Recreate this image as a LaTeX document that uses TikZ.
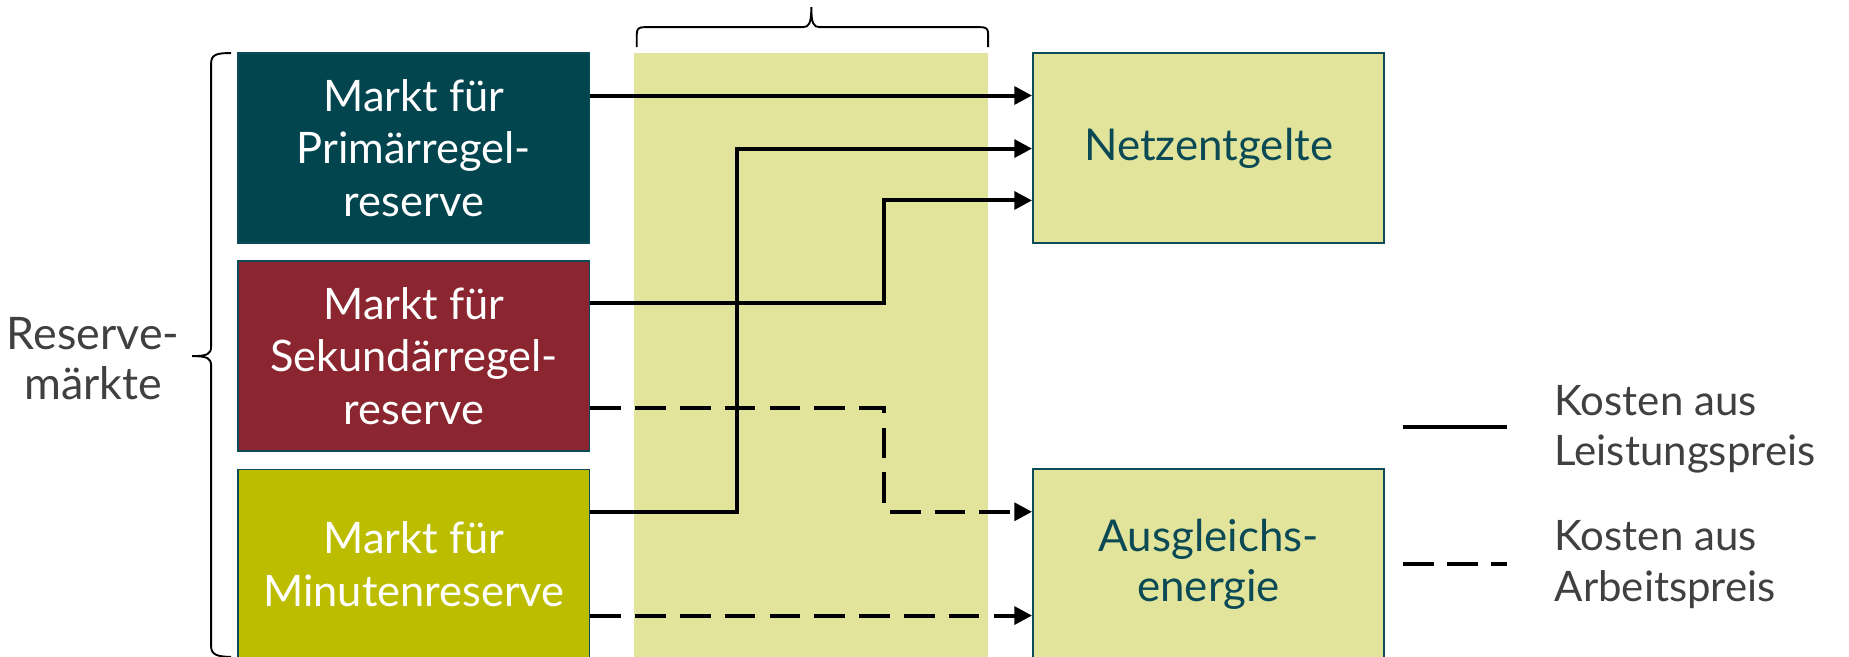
\documentclass[tikz,border=0pt]{standalone}
\usepackage{fontspec}
\setmainfont{Lato}
\usetikzlibrary{arrows.meta}
\definecolor{tealbox}{HTML}{02454F}
\definecolor{redbox}{HTML}{8B2630}
\definecolor{olivebox}{HTML}{BDBD00}
\definecolor{lightyel}{HTML}{E3E49B}
\definecolor{tealborder}{HTML}{0B4C57}
\definecolor{tealtext}{HTML}{0B4A55}
\definecolor{graytext}{HTML}{404040}
\tikzset{
  mkt/.style={draw=tealborder, line width=0.6pt, minimum width=149pt, minimum height=80.5pt,
    align=center, text=white, inner sep=0pt, font=\fontsize{18.4pt}{22.3pt}\selectfont},
  target/.style={draw=tealborder, line width=0.8pt, fill=lightyel, minimum width=149pt, minimum height=80.5pt,
    align=center, text=tealtext, inner sep=0pt, font=\fontsize{18.6pt}{21.5pt}\selectfont},
  lbl/.style={text=graytext, inner sep=0pt, font=\fontsize{17.8pt}{21.5pt}\selectfont},
  conn/.style={line width=1.7pt, black},
  connarr/.style={conn, -{Triangle[length=7.5pt,width=7.5pt]}},
  dashconn/.style={connarr, dash pattern=on 13pt off 6pt},
  bracel/.style={line width=0.8pt, black}
}
\begin{document}
\begin{tikzpicture}[x=0.5pt, y=-0.5pt]
\useasboundingbox (0,0) rectangle (1568,557);
% shaded column
\fill[lightyel] (538,45) rectangle (838,565);
% boxes
\node[mkt, fill=tealbox] (prim) at (351,125.5) {Markt für\\Primärregel-\\reserve};
\node[mkt, fill=redbox] (sek) at (351,302) {Markt für\\Sekundärregel-\\reserve};
\node[mkt, fill=olivebox] (min) at (351,478.5) {Markt für\\Minutenreserve};
\node[target] (netz) at (1025,125.5) {Netzentgelte};
\node[target] (ausg) at (1025,478.5) {Ausgleichs-\\energie};
% label of the left brace
\node[lbl, align=center, font=\fontsize{19pt}{21.5pt}\selectfont] (res) at (79,304) {Reserve-\\märkte};
% junction points
\coordinate (y1) at (0,81);
\coordinate (j1) at (625,126);
\coordinate (j2) at (750,170);
\coordinate (j3) at (750,434);
\coordinate (y2) at (0,434);
\coordinate (y3) at (0,257);
\coordinate (y4) at (0,346);
\coordinate (y5) at (0,522);
% connectors
\draw[connarr] (prim.east |- y1) -- (netz.west |- y1);
\draw[connarr] (min.east |- y2) -| (j1) -- (netz.west |- j1);
\draw[connarr] (sek.east |- y3) -| (j2) -- (netz.west |- j2);
\draw[dashconn] (sek.east |- y4) -| (j3) -- (ausg.west |- j3);
\draw[dashconn] (min.east |- y5) -- (ausg.west |- y5);
% left brace
\draw[bracel] (196,45) .. controls (184,45) and (179,46) .. (179,54) -- (179,294)
  .. controls (179,300) and (176,302) .. (163,302)
  .. controls (176,302) and (179,304) .. (179,310) -- (179,548)
  .. controls (179,555) and (184,557) .. (196,557);
% top brace
\draw[bracel] (540,40) -- (540,29) .. controls (540,24) and (542,23) .. (547,23) -- (681,23)
  .. controls (686,23) and (688,20) .. (688,6)
  .. controls (688,20) and (690,23) .. (695,23) -- (831,23)
  .. controls (836,23) and (838,24) .. (838,29) -- (838,40);
% legend
\coordinate (l1a) at (1190,362);
\coordinate (l1b) at (1278,362);
\coordinate (l2a) at (1190,478);
\coordinate (l2b) at (1278,478);
\draw[conn] (l1a) -- (l1b);
\draw[conn, dash pattern=on 13pt off 5.5pt] (l2a) -- (l2b);
\node[lbl, align=left, anchor=west] (leg1) at (1318,364) {Kosten aus\\Leistungspreis};
\node[lbl, align=left, anchor=west] (leg2) at (1318,479) {Kosten aus\\Arbeitspreis};
\end{tikzpicture}
\end{document}
